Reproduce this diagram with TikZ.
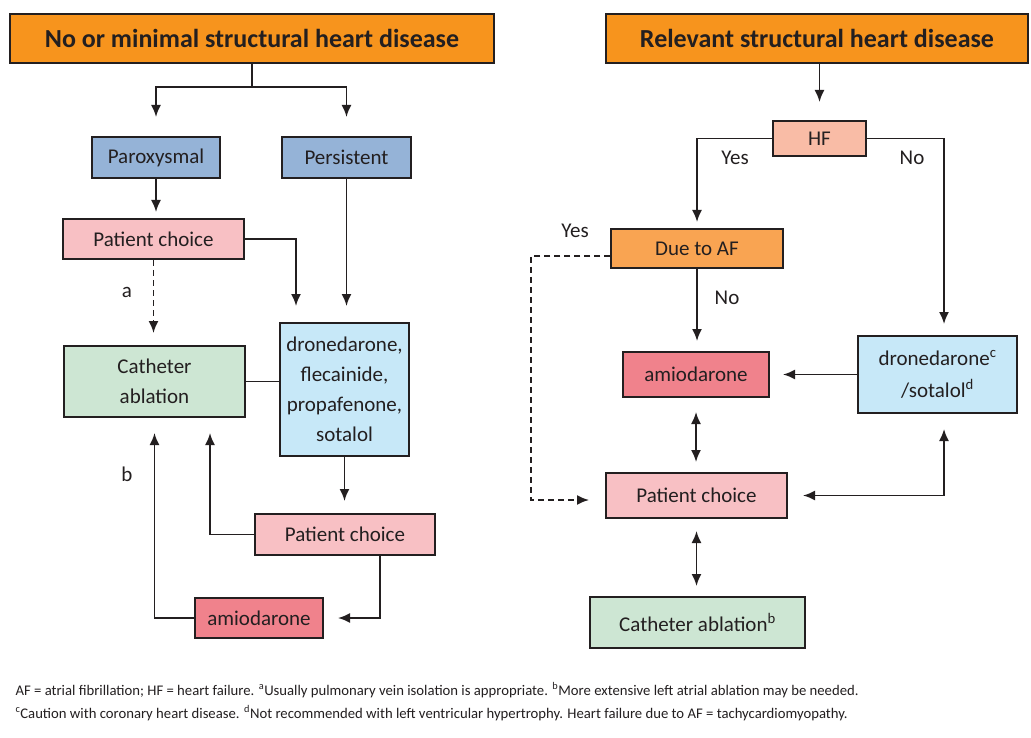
\documentclass[tikz,border=0pt]{standalone}
\usepackage{fontspec}
\setmainfont{Carlito}
\usepackage{tikz}
\usetikzlibrary{positioning}
\usetikzlibrary{arrows.meta,calc}
\usepackage{xcolor}
\definecolor{InkColor}{HTML}{231F20}
\definecolor{HeadOrange}{HTML}{F7941D}
\definecolor{DueOrange}{HTML}{F9A452}
\definecolor{TypeBlue}{HTML}{95B3D7}
\definecolor{ChoicePink}{HTML}{F8C0C4}
\definecolor{HFSalmon}{HTML}{F9BCA6}
\definecolor{AblGreen}{HTML}{CDE6D3}
\definecolor{AmioRed}{HTML}{F0828C}
\definecolor{DrugBlue}{HTML}{C7E8F8}

\begin{document}
\begin{tikzpicture}[x=1pt,y=-1pt,
	flowbox/.style={draw=InkColor,line width=2pt,inner sep=0pt,align=center,text=InkColor,font=\fontsize{21}{30}\selectfont},
	headbox/.style={flowbox,font=\bfseries\fontsize{26}{30}\selectfont},
	lbl/.style={text=InkColor,font=\fontsize{21}{24}\selectfont},
	conn/.style={draw=InkColor,line width=1.8pt},
	arr/.style={conn,-{Latex[length=12pt,width=10pt]},shorten >=12pt},
	dblarr/.style={conn,{Latex[length=12pt,width=10pt]}-{Latex[length=12pt,width=10pt]},shorten <=14pt,shorten >=10pt},
	dashy/.style={dash pattern=on 6pt off 4pt},
	note/.style={anchor=west,text=InkColor,font=\fontsize{14.7}{17}\selectfont}]
				\useasboundingbox[fill=white] (0,0) rectangle (1031,738);

				% no or minimal structural heart disease
				\node[headbox,fill=HeadOrange,minimum width=484pt,minimum height=49pt](hdrL) at (252,38.5) {No or minimal structural heart disease};
				\node[flowbox,fill=TypeBlue,minimum width=128pt,minimum height=41pt](parox) at (156,157.5) {Paroxysmal};
				\node[flowbox,fill=TypeBlue,minimum width=129pt,minimum height=41pt](persist) at (346.5,157.5) {Persistent};
				\node[flowbox,fill=ChoicePink,minimum width=181pt,minimum height=40pt](choiceL) at (153.5,239) {Patient choice};
				\node[flowbox,fill=AblGreen,minimum width=181pt,minimum height=71pt](ablL) at (154.5,381.5) {Catheter\\ablation};
				\node[flowbox,fill=DrugBlue,minimum width=129pt,minimum height=133pt](drugs) at (344.5,389.5) {dronedarone,\\flecainide,\\propafenone,\\sotalol};
				\node[flowbox,fill=ChoicePink,minimum width=180pt,minimum height=41pt](choiceL2) at (345,534.5) {Patient choice};
				\node[flowbox,fill=AmioRed,minimum width=128pt,minimum height=40pt](amioL) at (259,618) {amiodarone};
				\node[lbl](la) at (127,292) {a};
				\node[lbl](lb) at (127,474) {b};

				% relevant structural heart disease
				\node[headbox,fill=HeadOrange,minimum width=422pt,minimum height=49pt](hdrR) at (817,38.5) {Relevant structural heart disease};
				\node[flowbox,fill=HFSalmon,minimum width=93pt,minimum height=35pt](hf) at (819.5,138.5) {HF};
				\node[flowbox,fill=DueOrange,minimum width=172pt,minimum height=39pt](dueaf) at (697,248.5) {Due to AF};
				\node[flowbox,fill=AmioRed,minimum width=146pt,minimum height=45pt](amioR) at (696,374.5) {amiodarone};
				\node[flowbox,fill=DrugBlue,minimum width=159pt,minimum height=77pt,font=\fontsize{21}{32}\selectfont](droneR) at (937.5,374.5) {dronedarone\textsuperscript{c}\\/sotalol\textsuperscript{d}};
				\node[flowbox,fill=ChoicePink,minimum width=181pt,minimum height=45pt](choiceR) at (696.5,495.5) {Patient choice};
				\node[flowbox,fill=AblGreen,minimum width=215pt,minimum height=51pt](ablR) at (697.5,622.5) {Catheter ablation\textsuperscript{b}};
				\node[lbl](yes1) at (735,158) {Yes};
				\node[lbl](no1) at (912,158) {No};
				\node[lbl](yes2) at (575,231) {Yes};
				\node[lbl](no2) at (727,298) {No};

				\node[note](note1) at (12,690) {AF = atrial fibrillation; HF = heart failure. \textsuperscript{a}Usually pulmonary vein isolation is appropriate. \textsuperscript{b}More extensive left atrial ablation may be needed.};
				\node[note](note2) at (12,713) {\textsuperscript{c}Caution with coronary heart disease. \textsuperscript{d}Not recommended with left ventricular hypertrophy. Heart failure due to AF = tachycardiomyopathy.};

				\draw[conn] (hdrL.south) -- ++(0,23) coordinate (splitL);
				\draw[arr,shorten >=19pt] (splitL) -| (parox.north);
				\draw[arr,shorten >=19pt] (splitL) -| (persist.north);
				\draw[arr,shorten >=6pt] (parox.south) -- (parox.south |- choiceL.north);
				\draw[arr,dashy] (choiceL.south) -- (choiceL.south |- ablL.north);
				\draw[arr,shorten >=16pt] (choiceL.east) -| ([xshift=-48.5pt]drugs.north);
				\draw[arr,shorten >=16pt] (persist.south) -- (persist.south |- drugs.north);
				\draw[conn] (ablL.east) -- (ablL.east -| drugs.west);
				\draw[arr] (drugs.south) -- (drugs.south |- choiceL2.north);
				\draw[arr,shorten >=15pt] (choiceL2.west) -| ([xshift=55.5pt]ablL.south);
				\draw[arr,shorten >=14pt] ([xshift=35pt]choiceL2.south) |- (amioL.east);
				\draw[arr,shorten >=15pt] (amioL.west) -| (ablL.south);

				\draw[arr,shorten >=18pt] (hf.north |- hdrR.south) -- (hf.north);
				\draw[arr,shorten >=6pt] (hf.west) -| (dueaf.north);
				\draw[arr,shorten >=11pt] (hf.east) -| ([xshift=6.5pt]droneR.north);
				\draw[arr,shorten >=10pt] (dueaf.south) -- (dueaf.south |- amioR.north);
				\draw[arr,dashy,shorten >=16pt] ([yshift=-7.5pt]dueaf.west) -- ++(-79,0) |- ([yshift=-4.5pt]choiceR.west);
				\draw[arr,shorten >=13pt] (droneR.west) -- (droneR.west -| amioR.east);
				\draw[dblarr] (amioR.south) -- (amioR.south |- choiceR.north);
				\draw[dblarr,shorten <=15pt,shorten >=15pt] (choiceR.east) -| ([xshift=6.5pt]droneR.south);
				\draw[dblarr,shorten <=12pt] (choiceR.south) -- (choiceR.south |- ablR.north);

			\end{tikzpicture}
\end{document}
